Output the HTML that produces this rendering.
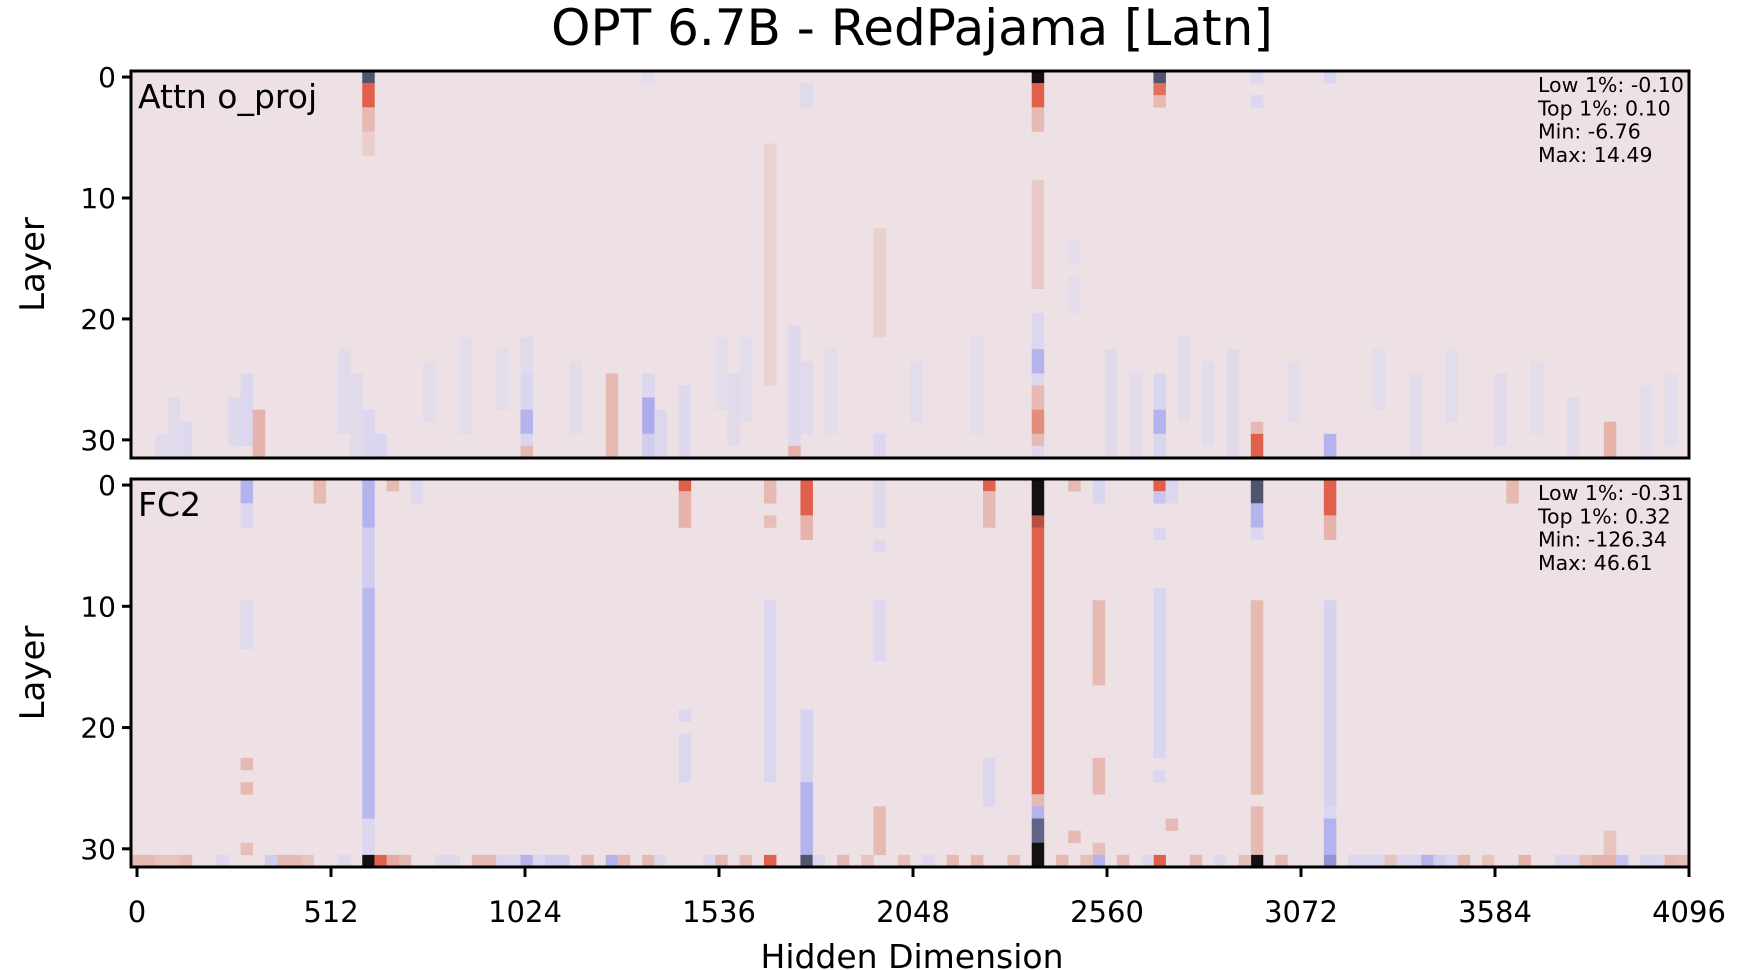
<!DOCTYPE html>
<html><head><meta charset="utf-8">
<style>
html,body{margin:0;padding:0;background:#fff;}
svg{display:block;}
text{font-family:"DejaVu Sans","Liberation Sans",sans-serif;fill:#000;}
</style></head>
<body>
<svg id="chart" width="1740" height="970" viewBox="0 0 1740 970" xmlns="http://www.w3.org/2000/svg">
<text x="912" y="45" font-size="50" text-anchor="middle">OPT 6.7B - RedPajama [Latn]</text>
<g id="top"></g>
<g id="bot"></g>
<text x="912" y="968" font-size="33" text-anchor="middle">Hidden Dimension</text>
</svg>
<script>
// x tick labels (hidden dimension) and y tick labels (layer)
const xTicks = [0,512,1024,1536,2048,2560,3072,3584,4096];
const yTicks = [0,10,20,30];
const nCols = 128;   // 4096 dims / 32 per bin
const nRows = 32;    // layers
// cells: [column, firstLayer, lastLayer, value]
const topCells = [
 [19,0,0,-2],[19,1,2,1],[19,3,4,0.4],[19,5,6,0.2],
 [74,0,0,2],[74,1,2,1],[74,3,4,0.4],[74,9,17,0.25],[74,20,22,-0.35],[74,23,24,-0.8],[74,25,25,-0.35],[74,26,27,0.4],[74,28,29,0.7],[74,30,30,0.4],[74,31,31,-0.3],
 [84,0,0,-2],[84,1,1,0.9],[84,2,2,0.4],[84,25,27,-0.4],[84,28,29,-0.8],[84,30,31,-0.4],
 [92,0,0,-0.35],[92,2,2,-0.35],[92,29,29,0.4],[92,30,31,1],
 [98,0,0,-0.4],[98,30,31,-0.8],
 [42,0,0,-0.2],[55,1,2,-0.3],[52,6,25,0.15],[61,13,21,0.18],[77,14,15,-0.2],[77,17,19,-0.2],
 [32,22,24,-0.25],[32,25,27,-0.4],[32,28,29,-0.8],[32,30,30,-0.4],[32,31,31,0.4],
 [39,25,31,0.4],
 [42,25,26,-0.35],[42,27,29,-0.9],[42,30,31,-0.5],[43,28,31,-0.35],[45,26,31,-0.3],
 [8,27,30,-0.3],[9,25,30,-0.35],[10,28,31,0.45],[3,27,31,-0.25],[4,29,31,-0.3],[2,30,31,-0.25],
 [17,23,29,-0.25],[18,25,31,-0.25],[19,28,31,-0.35],[20,30,31,-0.4],
 [24,24,28,-0.2],[27,22,29,-0.2],[30,23,27,-0.2],[36,24,29,-0.2],
 [48,22,27,-0.2],[49,25,30,-0.25],[50,22,28,-0.2],[54,21,31,-0.3],[55,24,29,-0.25],[54,31,31,0.45],
 [57,23,29,-0.2],[61,30,31,-0.35],[64,24,28,-0.2],[69,22,29,-0.2],
 [80,23,31,-0.25],[82,25,31,-0.2],[86,22,28,-0.2],[88,24,30,-0.2],[90,23,31,-0.25],
 [95,24,28,-0.2],[102,23,27,-0.2],[105,25,31,-0.2],[108,23,28,-0.2],[112,25,30,-0.25],
 [115,24,29,-0.2],[118,27,31,-0.25],[121,29,31,0.45],[124,26,31,-0.2],[126,25,30,-0.2]
];
const botCells = [
 [9,0,1,-0.8],[9,2,3,-0.35],[9,10,13,-0.3],[9,23,23,0.4],[9,25,25,0.4],[9,30,30,0.35],
 [15,0,1,0.4],
 [19,0,3,-0.8],[19,4,8,-0.5],[19,9,27,-0.75],[19,28,30,-0.35],[19,31,31,2],[20,31,31,1],[21,0,0,0.4],[21,31,31,0.5],
 [23,0,1,-0.3],
 [45,0,0,1],[45,1,3,0.45],[45,19,19,-0.35],[45,21,24,-0.35],
 [52,0,1,0.4],[52,3,3,0.35],[52,10,24,-0.35],[52,31,31,1],
 [55,0,2,1],[55,3,4,0.45],[55,19,24,-0.45],[55,25,30,-0.8],[55,31,31,-2],
 [61,0,3,-0.3],[61,5,5,-0.3],[61,10,14,-0.3],[61,27,30,0.4],
 [70,0,0,1],[70,1,3,0.4],[70,23,26,-0.35],
 [74,0,2,2],[74,3,3,1.2],[74,4,25,1],[74,26,26,0.4],[74,27,27,-0.8],[74,28,29,-1.8],[74,30,31,2],
 [77,0,0,0.4],[77,29,29,0.4],
 [79,0,1,-0.4],[79,10,16,0.4],[79,23,25,0.4],[79,30,30,0.35],[79,31,31,-0.8],
 [84,0,0,1],[84,1,1,-0.6],[84,4,4,-0.35],[84,9,22,-0.4],[84,24,24,-0.35],[84,31,31,1],[85,0,1,-0.35],[85,28,28,0.4],
 [92,0,1,-2],[92,2,3,-0.8],[92,4,4,-0.35],[92,10,25,0.4],[92,27,30,0.4],[92,31,31,2],
 [98,0,2,1],[98,3,4,0.45],[98,10,26,-0.45],[98,27,27,-0.35],[98,28,30,-0.8],[98,31,31,-1.2],
 [113,0,1,0.4],
 [0,31,31,0.4],[1,31,31,0.4],[2,31,31,0.3],[3,31,31,0.3],[4,31,31,0.4],[7,31,31,-0.3],[11,31,31,-0.5],
 [12,31,31,0.4],[13,31,31,0.4],[14,31,31,0.3],[17,31,31,-0.3],[22,31,31,0.4],[25,31,31,-0.3],[26,31,31,-0.3],
 [28,31,31,0.4],[29,31,31,0.4],[30,31,31,-0.35],[31,31,31,-0.35],[32,31,31,-0.8],[33,31,31,-0.35],[34,31,31,-0.5],[35,31,31,-0.5],
 [37,31,31,0.4],[39,31,31,-0.8],[40,31,31,0.4],[42,31,31,0.4],[43,31,31,-0.3],[47,31,31,-0.3],[48,31,31,0.4],
 [50,31,31,0.35],[56,31,31,-0.35],[58,31,31,0.4],[60,31,31,0.3],[63,31,31,0.35],[65,31,31,-0.3],[67,31,31,0.4],
 [69,31,31,0.4],[72,31,31,0.35],[76,31,31,0.4],[78,31,31,0.35],[81,31,31,0.4],[83,31,31,-0.3],[87,31,31,0.4],
 [89,31,31,-0.3],[91,31,31,0.35],[94,31,31,0.4],[100,31,31,-0.35],[101,31,31,-0.35],[102,31,31,-0.35],[103,31,31,0.3],
 [104,31,31,-0.35],[105,31,31,-0.35],[106,31,31,-0.8],[107,31,31,-0.5],[108,31,31,-0.35],[109,31,31,0.4],
 [111,31,31,0.3],[114,31,31,0.45],[117,31,31,-0.35],[118,31,31,-0.35],[119,31,31,0.35],[120,31,31,0.45],[121,31,31,0.45],
 [122,31,31,-0.6],[124,31,31,-0.4],[125,31,31,-0.35],[126,31,31,0.4],[127,31,31,0.35],[121,29,30,0.3]
];
const panelLabels = ["Attn o_proj","FC2"];
const statsTop = ["Low 1%: -0.10","Top 1%: 0.10","Min: -6.76","Max: 14.49"];
const statsBot = ["Low 1%: -0.31","Top 1%: 0.32","Min: -126.34","Max: 46.61"];

const NS="http://www.w3.org/2000/svg";
const X0=131, X1=1689, xTick0=137;
const stops=[[-2,[80,84,108]],[-1,[162,162,238]],[-0.4,[217,214,239]],[0,[237,225,229]],[0.4,[230,186,178]],[1,[224,96,76]],[2,[20,16,16]]];
function color(v){
  v=Math.max(-2,Math.min(2,v));
  for(let i=0;i<stops.length-1;i++){
    const a=stops[i],b=stops[i+1];
    if(v>=a[0]&&v<=b[0]){const t=(v-a[0])/(b[0]-a[0]);
      const c=a[1].map((x,k)=>Math.round(x+(b[1][k]-x)*t));return `rgb(${c[0]},${c[1]},${c[2]})`;}
  }
  return '#ede1e5';
}
function mk(tag,attrs,parent){const e=document.createElementNS(NS,tag);for(const k in attrs)e.setAttribute(k,attrs[k]);parent.appendChild(e);return e;}
function xDim(d){return xTick0+(d/4096)*(X1-xTick0);}

function panel(g,Y0,Y1,cells,label,stats,showX){
  const cw=(X1-X0)/nCols, rh=(Y1-Y0)/nRows;
  const colX=c=>X0+c*cw, rowY=r=>Y0+r*rh;
  const bg=mk('rect',{x:X0,y:Y0,width:X1-X0,height:Y1-Y0,fill:'#ede1e5'},g);
  
  
  cells.forEach(c=>{
    const r=mk('rect',{x:colX(c[0]).toFixed(2),y:rowY(c[1]).toFixed(2),width:(cw+0.3).toFixed(2),height:((c[2]-c[1]+1)*rh+0.3).toFixed(2),fill:color(c[3])},g);
    
    
  });
  const fr=mk('rect',{x:X0,y:Y0,width:X1-X0,height:Y1-Y0,fill:'none',stroke:'#000','stroke-width':3},g);
  
  
  yTicks.forEach(t=>{
    const y=rowY(t)+rh/2;
    const l=mk('line',{x1:X0-9,x2:X0,y1:y,y2:y,stroke:'#000','stroke-width':3},g);
    
    
    const tx=mk('text',{x:X0-15,y:y+10,'font-size':28,'text-anchor':'end'},g);
    tx.textContent=t;
    
    
  });
  const yl=mk('text',{x:0,y:0,'font-size':34,'text-anchor':'middle',transform:`translate(44,${(Y0+Y1)/2}) rotate(-90)`},g);
  yl.textContent='Layer';
  
  
  const pl=mk('text',{x:X0+7,y:Y0+37,'font-size':33},g);
  pl.textContent=label;
  
  
  stats.forEach((s,i)=>{
    const st=mk('text',{x:1538,y:Y0+21+i*23.3,'font-size':20.5},g);
    st.textContent=s;
    
    
  });
  if(showX){
    xTicks.forEach(t=>{
      const x=xDim(t);
      const l=mk('line',{x1:x,x2:x,y1:Y1,y2:Y1+10,stroke:'#000','stroke-width':3},g);
      
      
      const tx=mk('text',{x:x,y:922,'font-size':29,'text-anchor':'middle'},g);
      tx.textContent=t;
      
      
    });
  }
}
panel(document.getElementById('top'),71,458,topCells,panelLabels[0],statsTop,false);
panel(document.getElementById('bot'),479,867,botCells,panelLabels[1],statsBot,true);
</script>
</body></html>
